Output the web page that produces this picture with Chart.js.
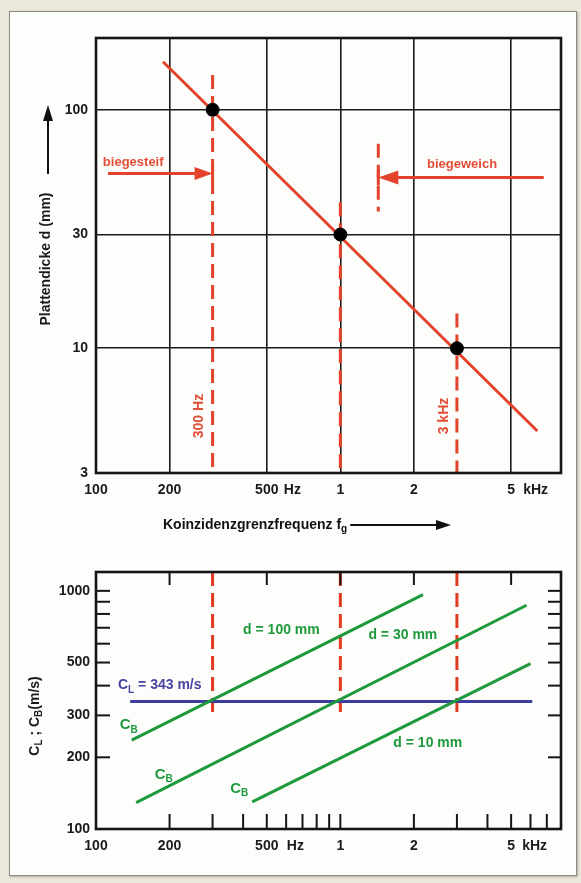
<!DOCTYPE html>
<html>
<head>
<meta charset="utf-8">
<style>
    html, body { margin: 0; padding: 0; background: #ebe8da; }
    #panel { position: absolute; left: 9px; top: 11px; width: 566px; height: 863px; background: #fdfdfb;
             border: 1px solid #8a8a86; box-shadow: 1px 1px 2px rgba(0,0,0,0.25); }
    canvas { position: absolute; left: 0; }
</style>
</head>
<body>
<div id="panel"></div>
<canvas id="upper" width="581" height="545" style="top:0"></canvas>
<canvas id="lower" width="581" height="338" style="top:545px"></canvas>

<script src="https://cdn.jsdelivr.net/npm/chart.js"></script>

<script>
    // frequency axis (Hz), shared by both charts
    var freqMin = 100, freqMax = 8000;
    var freqTicks = [100, 200, 500, 1000, 2000, 5000];
    var freqTickLabels = ['100', '200', '500', '1', '2', '5'];
    var freqSmallTicks = [100, 200, 300, 400, 500, 600, 700, 800, 900, 1000, 2000, 3000, 4000, 5000, 6000, 7000];

    // upper chart: plate thickness d (mm)
    var dMin = 3, dMax = 200;
    var dTicks = [3, 10, 30, 100];
    var thicknessLine = [{x: 188, y: 159}, {x: 6400, y: 4.5}];
    var thicknessPoints = [{x: 300, y: 100}, {x: 1000, y: 30}, {x: 3000, y: 10}];
    var markerFreqs = [300, 1000, 3000];
    var markerTopsMm = [140, 41, 14];
    var weichMarker = [{x: 1430, y: 72}, {x: 1430, y: 37.5}];

    // lower chart: speeds c (m/s)
    var cMin = 100, cMax = 1200;
    var cTicks = [100, 200, 300, 400, 500, 600, 700, 800, 900, 1000];
    var cTickLabels = {100: '100', 200: '200', 300: '300', 500: '500', 1000: '1000'};
    var cL = 343;
    var cLFreqs = [138, 6100];
    var cB100 = [{x: 140, y: 236}, {x: 2180, y: 965}];
    var cB30 = [{x: 146, y: 129}, {x: 5780, y: 870}];
    var cB10 = [{x: 436, y: 130}, {x: 6000, y: 495}];
    var markerBottomC = 308;

    var RED = '#e2432a', GREEN = '#1e9a3c', BLUE = '#3b3d9e';
    var FONT = '"Liberation Sans", Arial, sans-serif';

    function font(size) { return 'bold ' + size + 'px ' + FONT; }

    // draws text with subscripts; parts = [[text, isSub], ...]; returns width
    function richText(ctx, parts, x, y, size, measureOnly) {
        var start = x;
        parts.forEach(function (p) {
            var s = p[1] ? Math.round(size * 0.68) : size;
            ctx.font = font(s);
            if (!measureOnly) ctx.fillText(p[0], x, y + (p[1] ? size * 0.32 : 0));
            x += ctx.measureText(p[0]).width;
        });
        return x - start;
    }

    function line(ctx, x1, y1, x2, y2) {
        ctx.beginPath(); ctx.moveTo(x1, y1); ctx.lineTo(x2, y2); ctx.stroke();
    }

    function arrowHead(ctx, tipX, tipY, dir, len, half) {
        ctx.beginPath();
        ctx.moveTo(tipX, tipY);
        ctx.lineTo(tipX - dir * len, tipY - half);
        ctx.lineTo(tipX - dir * len, tipY + half);
        ctx.closePath(); ctx.fill();
    }

    function lineSet(data, color, width, dash) {
        return {data: data, showLine: true, borderColor: color, backgroundColor: color, borderWidth: width,
                borderDash: dash || [], pointRadius: 0, borderCapStyle: 'butt'};
    }

    function freqAxis(tickValues, labelFn, height) {
        return {
            type: 'logarithmic', min: freqMin, max: freqMax,
            afterBuildTicks: function (s) { s.ticks = tickValues.map(function (v) { return {value: v}; }); },
            afterFit: function (s) { s.height = height; },
            ticks: {autoSkip: false, maxRotation: 0, padding: 9, color: '#1a1a1a', font: {size: 14, weight: 'bold', family: FONT},
                    callback: labelFn},
            border: {display: false}
        };
    }

    function freqLabel(v) {
        var i = freqTicks.indexOf(v);
        return i >= 0 ? freqTickLabels[i] : '';
    }

    // ---------- upper chart ----------
    var markerSets = markerFreqs.map(function (f, i) {
        return lineSet([{x: f, y: markerTopsMm[i]}, {x: f, y: dMin}], RED, 3, [14, 7]);
    });

    var upperDeco = {
        id: 'upperDeco',
        afterDatasetsDraw: function (chart) {
            var ctx = chart.ctx, a = chart.chartArea, xs = chart.scales.x, ys = chart.scales.y;
            ctx.save();
            ctx.strokeStyle = '#151515'; ctx.lineWidth = 2.6;
            ctx.strokeRect(a.left, a.top, a.right - a.left, a.bottom - a.top);

            // arrows
            ctx.strokeStyle = RED; ctx.fillStyle = RED; ctx.lineWidth = 3;
            var y1 = ys.getPixelForValue(54), xa = xs.getPixelForValue(112), xb = xs.getPixelForValue(300);
            line(ctx, xa, y1, xb - 10, y1);
            arrowHead(ctx, xb, y1, 1, 18, 6.5);
            line(ctx, xb, y1 - 8, xb, y1 + 8);
            var y2 = ys.getPixelForValue(52), xc = xs.getPixelForValue(6800), xd = xs.getPixelForValue(1430);
            line(ctx, xc, y2, xd + 10, y2);
            arrowHead(ctx, xd, y2, -1, 20, 7);
            line(ctx, xd, y2 - 8, xd, y2 + 8);

            // texts
            ctx.textBaseline = 'middle'; ctx.textAlign = 'center';
            ctx.fillStyle = '#e24e36'; ctx.font = font(13);
            ctx.fillText('biegesteif', xs.getPixelForValue(142), ys.getPixelForValue(60));
            ctx.fillText('biegeweich', xs.getPixelForValue(3150), ys.getPixelForValue(59));
            ctx.font = font(14);
            [['300 Hz', 300, -13], ['3 kHz', 3000, -13]].forEach(function (t) {
                ctx.save();
                ctx.translate(xs.getPixelForValue(t[1]) + t[2], ys.getPixelForValue(5.2));
                ctx.rotate(-Math.PI / 2);
                ctx.fillText(t[0], 0, 0);
                ctx.restore();
            });

            // unit suffixes on frequency ticks
            ctx.fillStyle = '#1a1a1a'; ctx.textAlign = 'left';
            ctx.fillText('Hz', xs.getPixelForValue(500) + 17, a.bottom + 17);
            ctx.fillText('kHz', xs.getPixelForValue(5000) + 12, a.bottom + 17);

            // y title with arrow
            ctx.save();
            ctx.translate(a.left - 50, 259);
            ctx.rotate(-Math.PI / 2);
            ctx.textAlign = 'center';
            ctx.fillText('Plattendicke d (mm)', 0, 0);
            ctx.restore();
            ctx.strokeStyle = '#111'; ctx.fillStyle = '#111'; ctx.lineWidth = 2;
            line(ctx, a.left - 48, 174, a.left - 48, 118);
            ctx.beginPath(); ctx.moveTo(a.left - 48, 105); ctx.lineTo(a.left - 53, 121); ctx.lineTo(a.left - 43, 121); ctx.closePath(); ctx.fill();

            // x title with arrow
            ctx.textAlign = 'left';
            var w = richText(ctx, [['Koinzidenzgrenzfrequenz f', false], ['g', true]], 163, 525, 14);
            line(ctx, 163 + w + 3, 525, 438, 525);
            arrowHead(ctx, 451, 525, 1, 15, 5);
            ctx.restore();
        }
    };

    new Chart(document.getElementById('upper'), {
        type: 'scatter',
        data: {
            datasets: [
                {data: thicknessPoints, pointRadius: 6.5, pointBackgroundColor: '#000', pointBorderColor: '#000', showLine: false},
                lineSet(thicknessLine, RED, 3)
            ].concat(markerSets, [lineSet(weichMarker, RED, 3, [14, 7])])
        },
        options: {
            responsive: false, animation: false,
            layout: {padding: {top: 38, right: 20, left: 0, bottom: 0}},
            plugins: {legend: {display: false}, tooltip: {enabled: false}},
            scales: {
                x: Object.assign(freqAxis(freqTicks, freqLabel, 72), {
                    grid: {color: '#1a1a1a', lineWidth: 1.6, drawTicks: false}
                }),
                y: {
                    type: 'logarithmic', min: dMin, max: dMax,
                    afterBuildTicks: function (s) { s.ticks = dTicks.map(function (v) { return {value: v}; }); },
                    afterFit: function (s) { s.width = 96; },
                    grid: {color: '#1a1a1a', lineWidth: 1.6, drawTicks: false},
                    border: {display: false},
                    ticks: {padding: 8, color: '#1a1a1a', font: {size: 14, weight: 'bold', family: FONT},
                            callback: function (v) { return String(v); }}
                }
            }
        },
        plugins: [upperDeco]
    });

    // ---------- lower chart ----------
    var lowerMarkers = markerFreqs.map(function (f) {
        return lineSet([{x: f, y: cMax}, {x: f, y: markerBottomC}], '#e03a22', 3, [14, 7]);
    });

    var lowerDeco = {
        id: 'lowerDeco',
        afterDatasetsDraw: function (chart) {
            var ctx = chart.ctx, a = chart.chartArea, xs = chart.scales.x, ys = chart.scales.y;
            ctx.save();
            ctx.strokeStyle = '#151515'; ctx.lineWidth = 2.6;
            ctx.strokeRect(a.left, a.top, a.right - a.left, a.bottom - a.top);

            // inward tick marks
            ctx.lineWidth = 2;
            xs.ticks.forEach(function (t) {
                if (t.value <= freqMin) return;
                var px = xs.getPixelForValue(t.value);
                line(ctx, px, a.bottom, px, a.bottom - 15);
                if (freqTicks.indexOf(t.value) >= 0) line(ctx, px, a.top, px, a.top + 13);
            });
            ys.ticks.forEach(function (t) {
                if (t.value <= cMin) return;
                var py = ys.getPixelForValue(t.value);
                line(ctx, a.left, py, a.left + 14, py);
                line(ctx, a.right, py, a.right - 13, py);
            });

            ctx.textBaseline = 'middle'; ctx.textAlign = 'left';
            // unit suffixes
            ctx.fillStyle = '#1a1a1a'; ctx.font = font(14);
            ctx.fillText('Hz', xs.getPixelForValue(500) + 20, a.bottom + 17);
            ctx.fillText('kHz', xs.getPixelForValue(5000) + 11, a.bottom + 17);

            // curve labels
            ctx.fillStyle = GREEN;
            ctx.fillText('d = 100 mm', xs.getPixelForValue(400), ys.getPixelForValue(684));
            ctx.fillText('d = 30 mm', xs.getPixelForValue(1303), ys.getPixelForValue(651));
            ctx.fillText('d = 10 mm', xs.getPixelForValue(1648), ys.getPixelForValue(229));
            [[125, 273], [174, 169], [354, 148]].forEach(function (p) {
                richText(ctx, [['C', false], ['B', true]], xs.getPixelForValue(p[0]), ys.getPixelForValue(p[1]), 15);
            });
            ctx.fillStyle = '#4644a2';
            richText(ctx, [['C', false], ['L', true], [' = 343 m/s', false]], xs.getPixelForValue(123), ys.getPixelForValue(400), 14);

            // y title
            ctx.fillStyle = '#1a1a1a';
            var parts = [['C', false], ['L', true], [' ; C', false], ['B', true], ['(m/s)', false]];
            var w = richText(ctx, parts, 0, 0, 14, true);
            ctx.translate(a.left - 61, 171);
            ctx.rotate(-Math.PI / 2);
            richText(ctx, parts, -w / 2, 0, 14);
            ctx.restore();
        }
    };

    new Chart(document.getElementById('lower'), {
        type: 'scatter',
        data: {
            datasets: [
                lineSet(cB100, GREEN, 3),
                lineSet(cB30, GREEN, 3),
                lineSet(cB10, GREEN, 3),
                lineSet([{x: cLFreqs[0], y: cL}, {x: cLFreqs[1], y: cL}], BLUE, 3)
            ].concat(lowerMarkers)
        },
        options: {
            responsive: false, animation: false,
            layout: {padding: {top: 27, right: 20, left: 0, bottom: 0}},
            plugins: {legend: {display: false}, tooltip: {enabled: false}},
            scales: {
                x: Object.assign(freqAxis(freqSmallTicks, freqLabel, 54), {
                    grid: {display: false, drawTicks: false}
                }),
                y: {
                    type: 'logarithmic', min: cMin, max: cMax,
                    afterBuildTicks: function (s) { s.ticks = cTicks.map(function (v) { return {value: v}; }); },
                    afterFit: function (s) { s.width = 96; },
                    grid: {display: false, drawTicks: false},
                    border: {display: false},
                    ticks: {autoSkip: false, padding: 6, color: '#1a1a1a', font: {size: 14, weight: 'bold', family: FONT},
                            callback: function (v) { return cTickLabels[v] || ''; }}
                }
            }
        },
        plugins: [lowerDeco]
    });
</script>
</body>
</html>
